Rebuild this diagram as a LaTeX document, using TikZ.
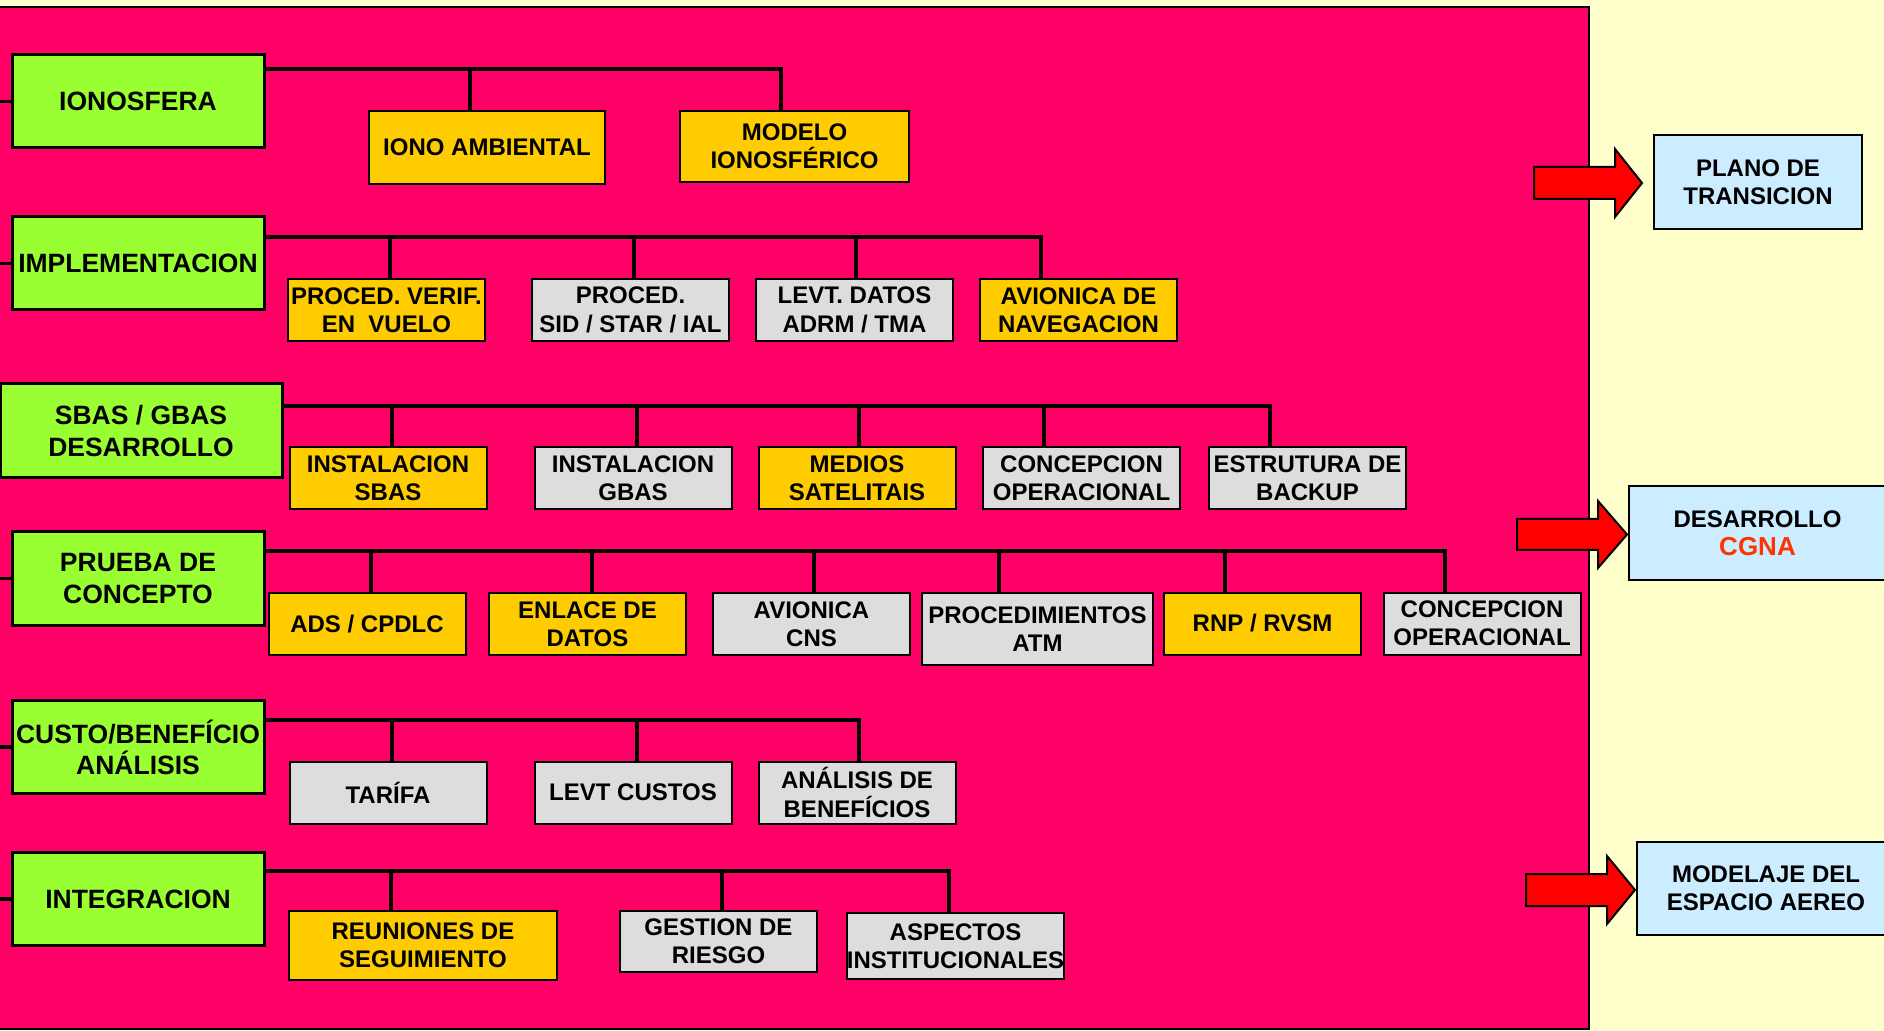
\documentclass[tikz,border=0pt]{standalone}
\usepackage{fontspec}
\setmainfont{Liberation Sans}
\definecolor{fondo}{HTML}{FFFFCC}
\definecolor{rosa}{HTML}{FF0066}
\definecolor{verde}{HTML}{99FF33}
\definecolor{amarillo}{HTML}{FFCC00}
\definecolor{gris}{HTML}{DDDDDD}
\definecolor{celeste}{HTML}{CCECFF}
\definecolor{cgna}{HTML}{FF3300}
\begin{document}
\begin{tikzpicture}[x=0.5pt,y=-0.5pt,
  grp/.style={draw,line width=1.5pt,fill=verde,minimum width=126pt,minimum height=46.5pt,inner sep=0pt,align=center,font=\bfseries\fontsize{13.25}{15.6}\selectfont},
  leaf/.style={draw,line width=1pt,minimum width=98.5pt,minimum height=31pt,inner sep=0pt,align=center,font=\bfseries\fontsize{12}{14.2}\selectfont},
  ama/.style={leaf,fill=amarillo},
  gri/.style={leaf,fill=gris},
  fin/.style={leaf,fill=celeste,minimum width=104pt,minimum height=47pt},
  bus/.style={draw,line width=1.75pt},
  flecha/.style={draw,line width=1pt,fill=red,line join=miter}]
\useasboundingbox (0,0) rectangle (1884,1031);
\fill[fondo] (0,0) rectangle (1884,1031);
\path[draw,line width=1pt,fill=rosa] (-4,7) rectangle (1589,1029);
\coordinate (e) at (0,0);
% grupos
\node[grp] (1) at (138,101.5) {IONOSFERA};
\node[grp] (2) at (138,263.5) {IMPLEMENTACION};
\node[grp,minimum width=141pt,minimum height=47pt] (3) at (141,431) {SBAS / GBAS\\DESARROLLO};
\node[grp] (4) at (138,578.5) {PRUEBA DE\\CONCEPTO};
\node[grp] (5) at (138,747) {CUSTO/BENEFÍCIO\\ANÁLISIS};
\node[grp] (6) at (138,899) {INTEGRACION};
% fila 1
\node[ama,minimum width=118pt,minimum height=36.5pt] (11) at (487,147.5) {IONO AMBIENTAL};
\node[ama,minimum width=114.5pt,minimum height=35.5pt] (12) at (794.5,146.5) {MODELO\\IONOSFÉRICO};
% fila 2
\node[ama] (21) at (386.5,310) {PROCED. VERIF.\\EN\ \ VUELO};
\node[gri] (22) at (630.5,310) {PROCED.\\SID / STAR / IAL};
\node[gri] (23) at (854.5,310) {LEVT. DATOS\\ADRM / TMA};
\node[ama] (24) at (1078.5,310) {AVIONICA DE\\NAVEGACION};
% fila 3
\node[ama] (31) at (388,478.5) {INSTALACION\\SBAS};
\node[gri] (32) at (633,478.5) {INSTALACION\\GBAS};
\node[ama] (33) at (857,478.5) {MEDIOS\\SATELITAIS};
\node[gri] (34) at (1081.5,478.5) {CONCEPCION\\OPERACIONAL};
\node[gri] (35) at (1307.5,478.5) {ESTRUTURA DE\\BACKUP};
% fila 4
\node[ama] (41) at (367,624) {ADS / CPDLC};
\node[ama] (42) at (587.5,624) {ENLACE DE\\DATOS};
\node[gri] (43) at (811.5,624) {AVIONICA\\CNS};
\node[gri,minimum width=115.5pt,minimum height=36pt] (44) at (1037.5,629) {PROCEDIMIENTOS\\ATM};
\node[ama] (45) at (1262.5,623.5) {RNP / RVSM};
\node[gri] (46) at (1482,623.5) {CONCEPCION\\OPERACIONAL};
% fila 5
\node[gri] (51) at (388,792.5) {TARÍFA};
\node[gri] (52) at (633,792.5) {LEVT CUSTOS};
\node[gri] (53) at (857,792.5) {ANÁLISIS DE\\BENEFÍCIOS};
% fila 6
\node[ama,minimum width=134pt,minimum height=34.5pt] (61) at (423,945.5) {REUNIONES DE\\SEGUIMIENTO};
\node[gri,minimum height=30.5pt] (62) at (718.5,941.5) {GESTION DE\\RIESGO};
\node[gri,minimum width=106.5pt,minimum height=33pt] (63) at (955.5,946) {ASPECTOS\\INSTITUCIONALES};
% resultados
\node[fin] (71) at (1758,182) {PLANO DE\\TRANSICION};
\node[fin,minimum width=128.5pt] (72) at (1757.5,533) {DESARROLLO\\{\fontsize{13}{15}\selectfont\color{cgna}CGNA}};
\node[fin,minimum width=129pt,minimum height=46.5pt] (73) at (1766,888.5) {MODELAJE DEL\\ESPACIO AEREO};
% barras
\coordinate (b1) at (264,69);
\coordinate (b2) at (264,237);
\coordinate (b3) at (282,406);
\coordinate (b4) at (264,551);
\coordinate (b5) at (264,720);
\coordinate (b6) at (264,871);
\path[bus] ([xshift=-8.5pt]11.north) |- (b1);
\path[bus] ([xshift=-6.75pt]12.north) |- (b1);
\path[bus] ([xshift=1.75pt]21.north) |- (b2);
\path[bus] ([xshift=1.75pt]22.north) |- (b2);
\path[bus] ([xshift=0.75pt]23.north) |- (b2);
\path[bus] ([xshift=-18.75pt]24.north) |- (b2);
\path[bus] ([xshift=2pt]31.north) |- (b3);
\path[bus] ([xshift=2pt]32.north) |- (b3);
\path[bus] ([xshift=1pt]33.north) |- (b3);
\path[bus] ([xshift=-18.75pt]34.north) |- (b3);
\path[bus] ([xshift=-18.75pt]35.north) |- (b3);
\path[bus] ([xshift=2pt]41.north) |- (b4);
\path[bus] ([xshift=2.25pt]42.north) |- (b4);
\path[bus] ([xshift=1.25pt]43.north) |- (b4);
\path[bus] ([xshift=-19.25pt]44.north) |- (b4);
\path[bus] ([xshift=-18.75pt]45.north) |- (b4);
\path[bus] ([xshift=-18.5pt]46.north) |- (b4);
\path[bus] ([xshift=2pt]51.north) |- (b5);
\path[bus] ([xshift=2pt]52.north) |- (b5);
\path[bus] ([xshift=1pt]53.north) |- (b5);
\path[bus] ([xshift=-16pt]61.north) |- (b6);
\path[bus] ([xshift=1.75pt]62.north) |- (b6);
\path[bus] ([xshift=-3.25pt]63.north) |- (b6);
\path[bus] (1.west) -- (1.west -| e);
\path[bus] (2.west) -- (2.west -| e);
\path[bus] (4.west) -- (4.west -| e);
\path[bus] (5.west) -- (5.west -| e);
\path[bus] (6.west) -- (6.west -| e);
% flechas
\path[flecha] (1534,167) -- (1615,167) -- (1615,149) -- (1642,183) -- (1615,217) -- (1615,199) -- (1534,199) -- cycle;
\path[flecha] (1517,519) -- (1598,519) -- (1598,501) -- (1627,534.5) -- (1598,568) -- (1598,550) -- (1517,550) -- cycle;
\path[flecha] (1526,874) -- (1607,874) -- (1607,856) -- (1635,890) -- (1607,924) -- (1607,906) -- (1526,906) -- cycle;
\end{tikzpicture}
\end{document}
